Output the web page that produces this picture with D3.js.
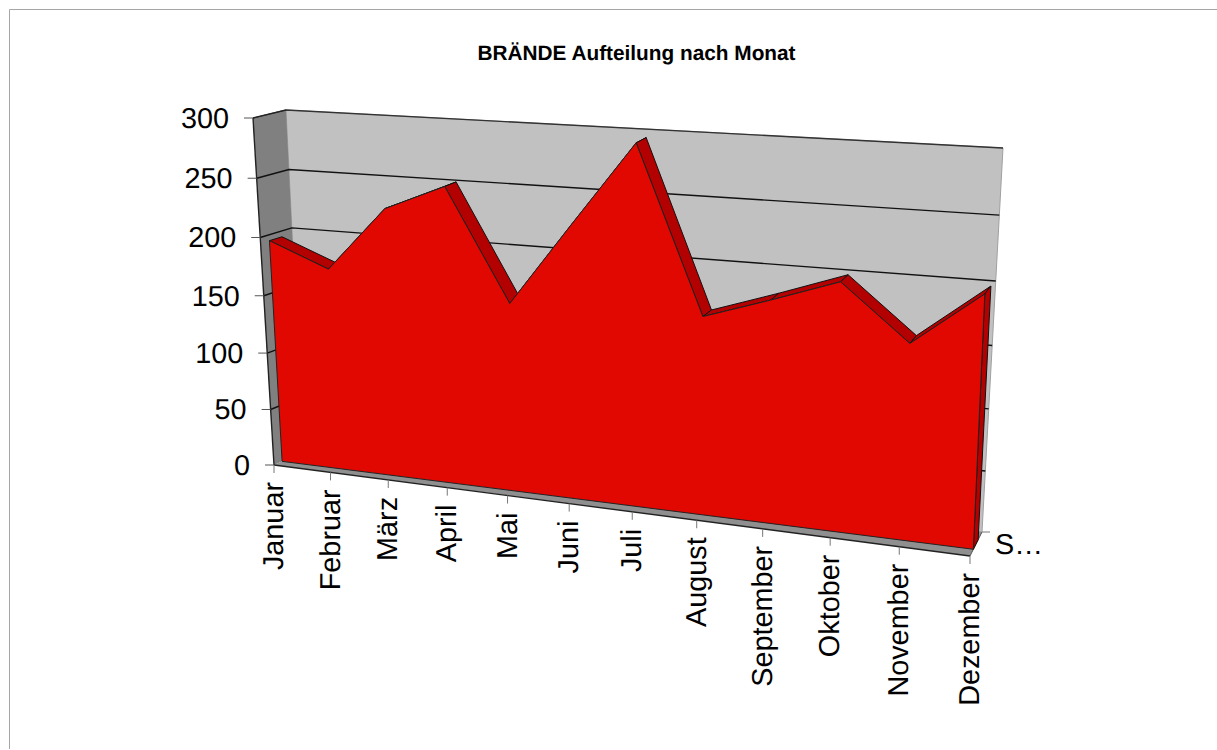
<!DOCTYPE html>
<html><head><meta charset="utf-8">
<script src="https://cdnjs.cloudflare.com/ajax/libs/d3/7.8.5/d3.min.js"></script>
<style>html,body{margin:0;padding:0;background:#fff}svg{display:block}text{font-family:"Liberation Sans",Arial,sans-serif;fill:#000;text-rendering:geometricPrecision}</style>
</head><body><svg id="c" width="1217" height="750"></svg>
<script>
const titleText = "BRÄNDE Aufteilung nach Monat";
const months = ["Januar","Februar","März","April","Mai","Juni","Juli","August","September","Oktober","November","Dezember"];
const values = [195,175,230,252,160,229,297,164,182,201,158,201];
const valueTicks = [0,50,100,150,200,250,300];
const seriesLabel = "S…";

// Camera: corners of the plot box as photographed. [u,v] -> px for front and back planes.
const frontBox = {bl:[274,465],br:[970,556],tl:[253,118],tr:[986,166]};
const backBox  = {bl:[303,452],br:[982,532],tl:[286,110],tr:[1003,148]};
const zFront = 0.28, zBack = 0.68;

function lerp(a,b,t){return [a[0]+(b[0]-a[0])*t,a[1]+(b[1]-a[1])*t];}
function planeAt(z){
  const o={}; for(const k of ["bl","br","tl","tr"]) o[k]=lerp(frontBox[k],backBox[k],z);
  return homography(o);
}
// Unit square -> quad (closed form); u along months, v along values.
function homography(q){
  const [x0,y0]=q.bl,[x1,y1]=q.br,[x2,y2]=q.tr,[x3,y3]=q.tl;
  const dx1=x1-x2,dx2=x3-x2,sx=x0-x1+x2-x3,dy1=y1-y2,dy2=y3-y2,sy=y0-y1+y2-y3;
  const den=dx1*dy2-dx2*dy1;
  const g=(sx*dy2-dx2*sy)/den,h=(dx1*sy-sx*dy1)/den;
  const a=x1-x0+g*x1,b=x3-x0+h*x3,d=y1-y0+g*y1,e=y3-y0+h*y3;
  return (u,v)=>{const w=g*u+h*v+1;return [(a*u+b*v+x0)/w,(d*u+e*v+y0)/w];};
}
const uScale = d3.scalePoint().domain(months).range([0,1]);
const vScale = d3.scaleLinear().domain([0,300]).range([0,1]);

const P0=planeAt(0),P1=planeAt(1),PF=planeAt(zFront),PB=planeAt(zBack);
const svg=d3.select("#c");
const line=d3.line();
const poly=(pts,fill,stroke,sw)=>svg.append("path").attr("d",line(pts)+"Z").attr("fill",fill).attr("stroke",stroke||"none").attr("stroke-width",sw||0).attr("stroke-linejoin","round");
const seg=(a,b,stroke,sw)=>svg.append("line").attr("x1",a[0]).attr("y1",a[1]).attr("x2",b[0]).attr("y2",b[1]).attr("stroke",stroke).attr("stroke-width",sw);

// chart frame
svg.append("path").attr("d","M9.5,749V9.5H1217").attr("fill","none").attr("stroke","#a6a6a6").attr("stroke-width",1);

svg.append("text").attr("x",636.5).attr("y",60).attr("text-anchor","middle").attr("font-weight","bold").attr("font-size",20.8).text(titleText);

// back wall
poly([P1(0,0),P1(1,0),P1(1,1),P1(0,1)],"#c1c1c1","#a0a0a0",1);
// left wall
poly([P0(0,0),P1(0,0),P1(0,1),P0(0,1)],"#808080");
// floor
poly([P0(0,0),P0(1,0),P1(1,0),P1(0,0)],"#8f8f8f");

// gridlines over back wall and left wall
valueTicks.filter(t=>t>0).forEach(t=>{
  const v=vScale(t);
  svg.append("path").attr("d",line([P0(0,v),P1(0,v),P1(1,v)])).attr("fill","none").attr("stroke",t===300?"#333":"#111").attr("stroke-width",1.4).attr("stroke-linejoin","round");
});
seg(P0(0,0),P0(0,1),"#222",1.4);
seg(P1(0,1),P0(0,1),"#222",1.2);
seg(P0(0,0),P0(1,0),"#222",1.4);
seg(P0(1,0),P1(1,0),"#555",1);

// area: side slabs from back to front
const pts=months.map((m,i)=>({u:uScale(m),v:vScale(values[i])}));
for(let i=0;i<pts.length-1;i++){
  const a=pts[i],b=pts[i+1];
  poly([PF(a.u,a.v),PF(b.u,b.v),PB(b.u,b.v),PB(a.u,a.v)],"#b30000","#111",1);
}
const last=pts[pts.length-1];
poly([PF(last.u,last.v),PF(last.u,0),PB(last.u,0),PB(last.u,last.v)],"#b30000","#111",1);
poly([PF(0,0),...pts.map(p=>PF(p.u,p.v)),PF(1,0)],"#e00800","#222",1);

// value axis
valueTicks.forEach(t=>{
  const p=P0(0,vScale(t));
  seg([p[0]-9,p[1]],p,"#555",1);
  svg.append("text").attr("x",p[0]-24).attr("y",p[1]+10).attr("text-anchor","end").attr("font-size",28.8).text(t);
});
// category axis
months.forEach(m=>{
  const p=P0(uScale(m),0);
  seg(p,[p[0],p[1]+8],"#777",1);
  svg.append("text").attr("transform",`translate(${p[0]+9},${p[1]+17}) rotate(-90)`).attr("text-anchor","end").attr("font-size",28.8).text(m);
});
// depth axis
const bp=P1(1,0);
seg(bp,[bp[0]+8,bp[1]],"#777",1);
svg.append("text").attr("x",bp[0]+13).attr("y",bp[1]+22).attr("font-size",28.8).text(seriesLabel);
</script></body></html>
